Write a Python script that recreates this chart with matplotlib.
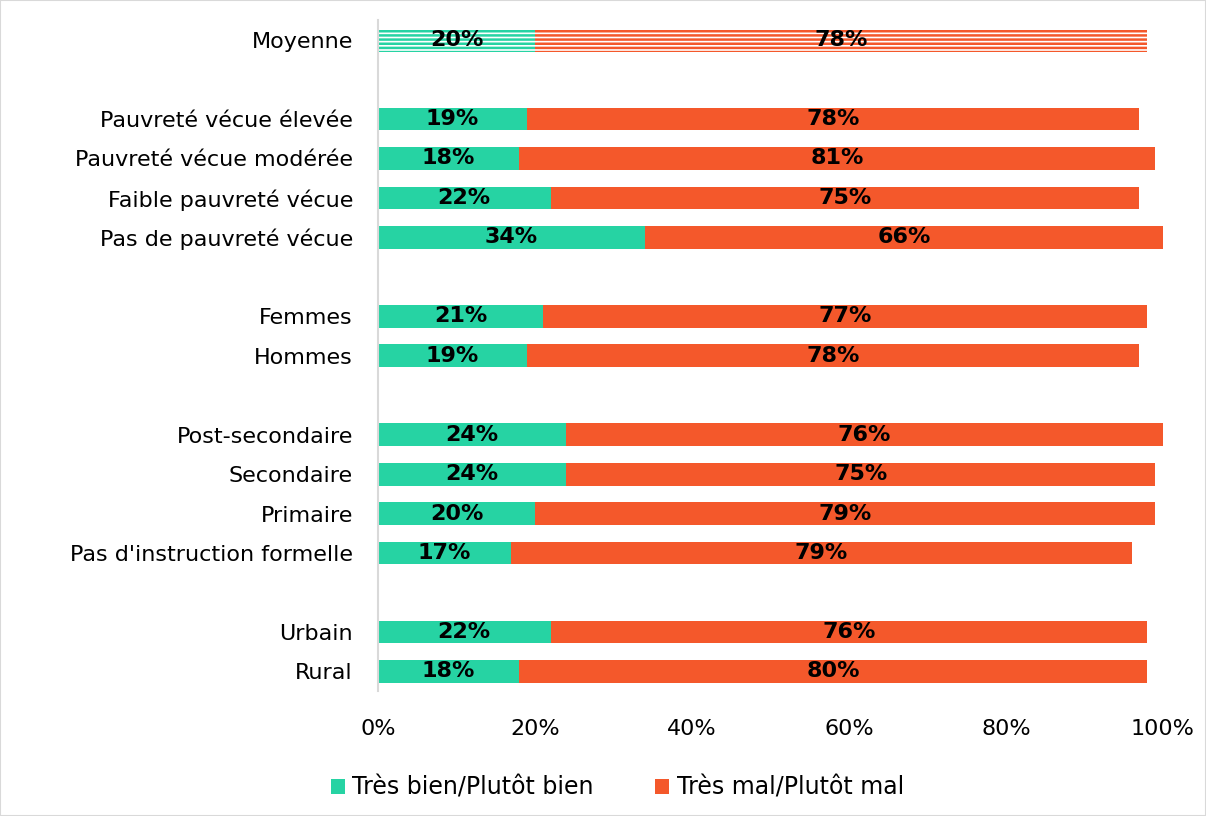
import matplotlib
matplotlib.use("Agg")
import matplotlib.pyplot as plt
from matplotlib.patches import Patch

categories = ["Moyenne", "",
              "Pauvreté vécue élevée", "Pauvreté vécue modérée", "Faible pauvreté vécue", "Pas de pauvreté vécue", "",
              "Femmes", "Hommes", "",
              "Post-secondaire", "Secondaire", "Primaire", "Pas d'instruction formelle", "",
              "Urbain", "Rural"]
bien = [20, None, 19, 18, 22, 34, None, 21, 19, None, 24, 24, 20, 17, None, 22, 18]
mal = [78, None, 78, 81, 75, 66, None, 77, 78, None, 76, 75, 79, 79, None, 76, 80]
series_names = ["Très bien/Plutôt bien", "Très mal/Plutôt mal"]
colors = ["#26D3A3", "#F4582B"]

plt.rcParams['hatch.linewidth'] = 1.8
fig = plt.figure(figsize=(12.06, 8.16), dpi=100)
ax = fig.add_axes([0.3134, 0.153, 0.6509, 0.822])

for i, (b, m) in enumerate(zip(bien, mal)):
    if b is None:
        continue
    if categories[i] == "Moyenne":
        ax.barh(i, b, height=0.58, color="white", edgecolor=colors[0], hatch="----", linewidth=0)
        ax.barh(i, m, left=b, height=0.58, color="white", edgecolor=colors[1], hatch="----", linewidth=0)
    else:
        ax.barh(i, b, height=0.58, color=colors[0], linewidth=0)
        ax.barh(i, m, left=b, height=0.58, color=colors[1], linewidth=0)
    ax.text(b / 2, i, f"{b}%", ha="center", va="center", fontsize=16, fontweight="bold", color="black")
    ax.text(b + m / 2, i, f"{m}%", ha="center", va="center", fontsize=16, fontweight="bold", color="black")

ax.set_ylim(len(categories) - 0.5, -0.5)
ax.set_xlim(0, 100)
ax.set_yticks(range(len(categories)))
ax.set_yticklabels(categories, fontsize=16)
ax.set_xticks([0, 20, 40, 60, 80, 100])
ax.set_xticklabels([f"{v}%" for v in [0, 20, 40, 60, 80, 100]], fontsize=16)
ax.tick_params(axis="both", length=0)
ax.tick_params(axis="x", pad=20)
ax.tick_params(axis="y", pad=18)
for s in ["top", "right", "bottom"]:
    ax.spines[s].set_visible(False)
ax.spines["left"].set_color("#D9D9D9")
ax.spines["left"].set_linewidth(1.5)

handles = [Patch(facecolor=c, edgecolor="none") for c in colors]
fig.legend(handles, series_names, loc="center", bbox_to_anchor=(0.512, 0.035), ncol=2,
           frameon=False, fontsize=17, handlelength=0.6, handleheight=0.6,
           handletextpad=0.3, columnspacing=2.6)

fig.patches.append(matplotlib.patches.Rectangle((0, 0), 1, 1, transform=fig.transFigure,
                                                fill=False, edgecolor="#D9D9D9", linewidth=1.5))
fig.savefig("out.png", dpi=100)
